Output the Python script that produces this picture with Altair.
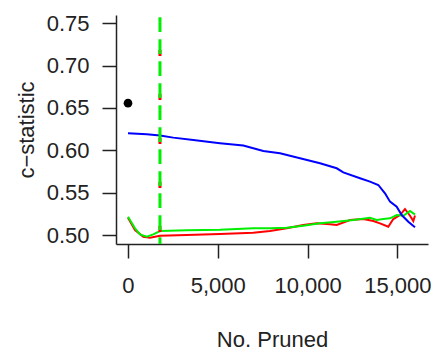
import altair as alt
import pandas as pd

# Blue series
blue_x = [0, 1041, 1782, 2522, 3636, 5122, 6420, 7534, 8464, 9577, 10691, 11620,
          11988, 12918, 13474, 13937, 14310, 14588, 14961, 15239, 15607, 15980]
blue_y = [0.6202, 0.6190, 0.6174, 0.6150, 0.6123, 0.6084, 0.6056, 0.5993, 0.5966, 0.5907, 0.5848, 0.5788,
          0.5740, 0.5670, 0.5630, 0.5591, 0.5493, 0.5394, 0.5335, 0.5236, 0.5157, 0.5091]

# Green series
green_x = [0, 390, 668, 1041, 1409, 1782, 3268, 5122, 6977, 7906, 8836, 9761, 10691,
           11620, 12545, 13475, 13848, 14215, 14588, 14961, 15329, 15702, 15886, 15980]
green_y = [0.5216, 0.5079, 0.5008, 0.4980, 0.5008, 0.5047, 0.5056, 0.5063, 0.5079, 0.5080, 0.5086, 0.5110, 0.5138,
           0.5157, 0.5177, 0.5204, 0.5177, 0.5189, 0.5197, 0.5236, 0.5228, 0.5284, 0.5256, 0.5243]

# Red series
red_x = [0, 390, 854, 1225, 1782, 3268, 5122, 6977, 7906, 8836, 9761, 10507, 11247,
         11620, 12361, 13101, 13658, 14031, 14494, 14772, 15145, 15423, 15702, 15886, 15980]
red_y = [0.5204, 0.5059, 0.4980, 0.4968, 0.4992, 0.5000, 0.5012, 0.5027, 0.5047, 0.5079, 0.5118, 0.5138, 0.5126,
         0.5118, 0.5177, 0.5189, 0.5165, 0.5138, 0.5098, 0.5189, 0.5236, 0.5307, 0.5228, 0.5165, 0.5231]

point_x = [0]
point_y = [0.6557]

vline_x = [1780]

x_ticks = [0, 5000, 10000, 15000]
y_ticks = [0.50, 0.55, 0.60, 0.65, 0.70, 0.75]

rows = []
for name, xs, ys in [("red", red_x, red_y), ("green", green_x, green_y), ("blue", blue_x, blue_y)]:
    for i, (a, b) in enumerate(zip(xs, ys)):
        rows.append({"series": name, "x": a, "y": b, "order": i})
df = pd.DataFrame(rows)

xscale = alt.Scale(domain=[-668, 16704], nice=False, zero=False)
yscale = alt.Scale(domain=[0.4894, 0.7598], nice=False, zero=False)

xaxis = alt.Axis(values=x_ticks, format=",d", title="No. Pruned", grid=False,
                 tickSize=14, tickWidth=1.5, domainWidth=1.5, labelPadding=17,
                 labelFontSize=22, titleFontSize=22, titleFontWeight="normal",
                 titleX=156, titleY=102, titleBaseline="alphabetic", titleAlign="center",
                 labelFlush=False, labelOverlap=False)
yaxis = alt.Axis(values=y_ticks, format=".2f", title="c\u2212statistic", grid=False,
                 tickSize=14, tickWidth=1.5, domainWidth=1.5, labelPadding=13,
                 labelFontSize=22, titleFontSize=22, titleFontWeight="normal",
                 titleX=-83, titleY=114.5, titleBaseline="alphabetic", titleAlign="center",
                 titleAngle=270, labelFlush=False, labelOverlap=False)

lines = alt.Chart(df).mark_line(strokeWidth=2, clip=True).encode(
    x=alt.X("x:Q", scale=xscale, axis=xaxis),
    y=alt.Y("y:Q", scale=yscale, axis=yaxis),
    color=alt.Color("series:N", scale=alt.Scale(domain=["red", "green", "blue"],
                                                range=["#ff0000", "#00ee00", "#0000ff"]), legend=None),
    detail="series:N",
    order="order:Q",
)

pt = alt.Chart(pd.DataFrame({"x": point_x, "y": point_y})).mark_circle(
    size=75, color="#000000", opacity=1).encode(
    x=alt.X("x:Q", scale=xscale), y=alt.Y("y:Q", scale=yscale))

vdf = pd.DataFrame({"x": vline_x})
vred = alt.Chart(vdf).mark_rule(color="#ff0000", strokeWidth=3, strokeDash=[6, 38],
                                strokeDashOffset=9).encode(
    x=alt.X("x:Q", scale=xscale), y=alt.value(0), y2=alt.value(229))
vgreen = alt.Chart(vdf).mark_rule(color="#00ee00", strokeWidth=3, strokeDash=[14.7, 7.3],
                                  strokeDashOffset=19.7).encode(
    x=alt.X("x:Q", scale=xscale), y=alt.value(0), y2=alt.value(229))

chart = alt.layer(lines, pt, vred, vgreen).properties(
    width=312, height=229,
    autosize="none",
    padding={"left": 116, "top": 15, "right": 10, "bottom": 107},
    background="white",
).configure_view(stroke=None).configure_axis(
    domainColor="#222", tickColor="#222", labelColor="#222", titleColor="#222",
    labelFont="Liberation Sans", titleFont="Liberation Sans",
)

chart.save("out.html", embed_options={"renderer": "svg", "actions": False})
